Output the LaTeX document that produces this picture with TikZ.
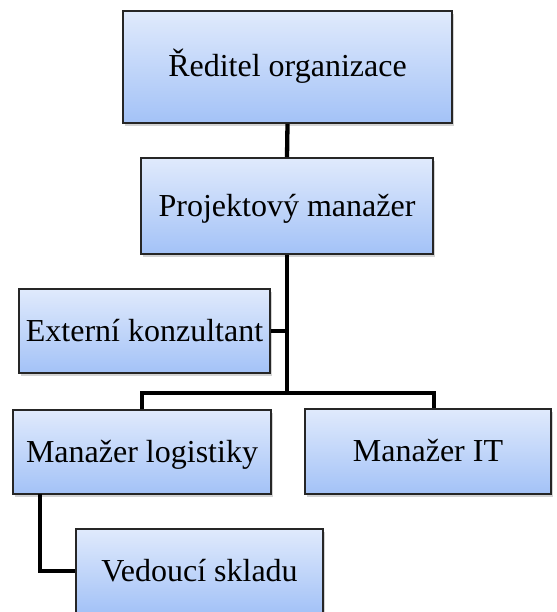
\documentclass[tikz,border=0pt]{standalone}
\usepackage{fontspec}
\setmainfont{Liberation Serif}
\usetikzlibrary{shadows}
\definecolor{boxtop}{RGB}{224,234,252}
\definecolor{boxbot}{RGB}{163,194,247}

\begin{document}
\begin{tikzpicture}[x=1pt, y=-1pt,
	role/.style={draw=black!85, line width=1.8pt, top color=boxtop, bottom color=boxbot,
		drop shadow={shadow xshift=2pt, shadow yshift=-3pt, opacity=0.35},
		font=\fontsize{32}{38}\selectfont, inner sep=0pt, text height=27pt, text depth=7pt},
	link/.style={line width=4.3pt}]
	\useasboundingbox (0,0) rectangle (556,612);
	\node[role, minimum width=329pt, minimum height=112pt] (dir) at (287.5,67) {Ředitel organizace};
	\node[role, minimum width=292pt, minimum height=96pt] (pm) at (287,206) {Projektový manažer};
	\node[role, minimum width=251pt, minimum height=84pt] (ext) at (144.5,331) {Externí konzultant};
	\node[role, minimum width=258pt, minimum height=84pt] (ml) at (142,452) {Manažer logistiky};
	\node[role, minimum width=246pt, minimum height=85pt] (mit) at (428,451.5) {Manažer IT};
	\node[role, minimum width=247pt, minimum height=84pt] (ved) at (199.5,571) {Vedoucí skladu};
	% connectors
	\coordinate (split) at (287,393);
	\coordinate (mlhook) at (40,494);
	\draw[link] (dir.south) -- (pm.north);
	\draw[link] (pm.south) -- (split);
	\draw[link] (ext.east) -- (ext.east -| split);
	\draw[link] (ml.north) |- (split) -| ([xshift=6pt]mit.north);
	\draw[link] (mlhook) |- (ved.west);
\end{tikzpicture}
\end{document}
